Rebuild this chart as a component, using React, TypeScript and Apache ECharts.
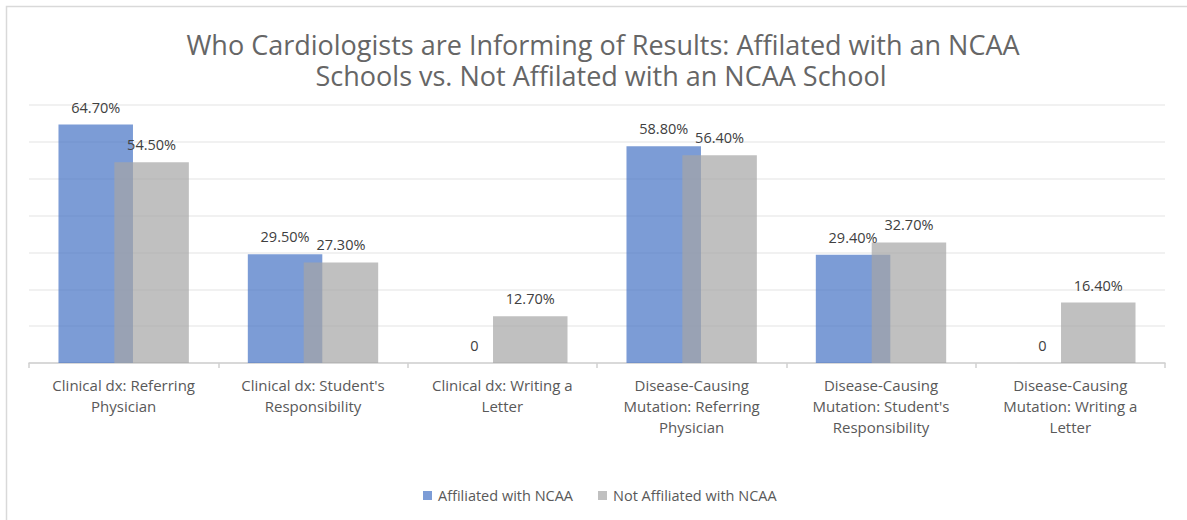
import React, { useEffect, useRef } from "react";
import * as echarts from "echarts";

const categories = [
  "Clinical dx: Referring\nPhysician",
  "Clinical dx: Student's\nResponsibility",
  "Clinical dx: Writing a\nLetter",
  "Disease-Causing\nMutation: Referring\nPhysician",
  "Disease-Causing\nMutation: Student's\nResponsibility",
  "Disease-Causing\nMutation: Writing a\nLetter",
];
const affiliated = [64.7, 29.5, 0, 58.8, 29.4, 0];
const notAffiliated = [54.5, 27.3, 12.7, 56.4, 32.7, 16.4];
const seriesNames = ["Affiliated with NCAA", "Not Affiliated with NCAA"];
const titleLines = [
  "Who Cardiologists are Informing of Results: Affilated with an NCAA",
  "Schools vs. Not Affilated with an NCAA School",
];

const FONT = "'Open Sans', sans-serif";

const fmt = (v: number) => (v === 0 ? "0" : v.toFixed(2) + "%");

export default function App() {
  const ref = useRef<HTMLDivElement>(null);
  useEffect(() => {
    if (!ref.current) return;
    const chart = echarts.init(ref.current, null, { renderer: "svg" });
    const label = {
      show: true,
      position: "top",
      distance: 10,
      color: "#404040",
      fontSize: 14.5,
      fontFamily: FONT,
      formatter: (p: any) => fmt(p.value),
    };
    const titleStyle = {
      fontFamily: FONT,
      fontSize: 27,
      fontWeight: "normal",
      color: "#666666",
    };
    chart.setOption({
      animation: false,
      backgroundColor: "#ffffff",
      textStyle: { fontFamily: FONT },
      title: [
        {
          text: titleLines[0],
          left: 603,
          textAlign: "center",
          top: 31,
          padding: 0,
          textStyle: titleStyle,
        },
        {
          text: titleLines[1],
          left: 601,
          textAlign: "center",
          top: 62,
          padding: 0,
          textStyle: titleStyle,
        },
      ],
      graphic: [
        {
          type: "rect",
          shape: { x: 6.5, y: 6.5, width: 1300, height: 700 },
          style: { fill: "none", stroke: "#D9D9D9", lineWidth: 1.5 },
          silent: true,
        },
      ],
      legend: {
        data: seriesNames,
        bottom: 12,
        left: 418,
        icon: "rect",
        itemWidth: 9,
        itemHeight: 9,
        itemGap: 25,
        textStyle: { fontFamily: FONT, fontSize: 14.5, color: "#595959", padding: [0, 0, 0, 1] },
      },
      grid: { left: 29, right: 22, top: 105, bottom: 157, containLabel: false },
      xAxis: {
        type: "category",
        data: categories,
        axisLine: { lineStyle: { color: "#D0D0D0", width: 1.5 } },
        axisTick: { show: true, length: 5, lineStyle: { color: "#D0D0D0", width: 1.5 } },
        axisLabel: {
          interval: 0,
          margin: 11,
          color: "#595959",
          fontSize: 15,
          lineHeight: 21,
          fontFamily: FONT,
          align: "center",
        },
      },
      yAxis: {
        type: "value",
        min: 0,
        max: 70,
        interval: 10,
        axisLabel: { show: false },
        axisLine: { show: false },
        axisTick: { show: false },
        splitLine: { lineStyle: { color: "#ECECEC", width: 1.5 } },
      },
      series: [
        {
          name: seriesNames[0],
          type: "bar",
          data: affiliated,
          barWidth: 74.5,
          barGap: "-25%",
          itemStyle: { color: "rgba(68,114,196,0.7)" },
          label,
        },
        {
          name: seriesNames[1],
          type: "bar",
          data: notAffiliated,
          barWidth: 74.5,
          barGap: "-25%",
          itemStyle: { color: "rgba(165,165,165,0.7)" },
          label,
        },
      ],
    });
    return () => chart.dispose();
  }, []);
  return (
    <div
      ref={ref}
      style={{ position: "fixed", left: 0, top: 0, width: 1187, height: 520 }}
    />
  );
}
